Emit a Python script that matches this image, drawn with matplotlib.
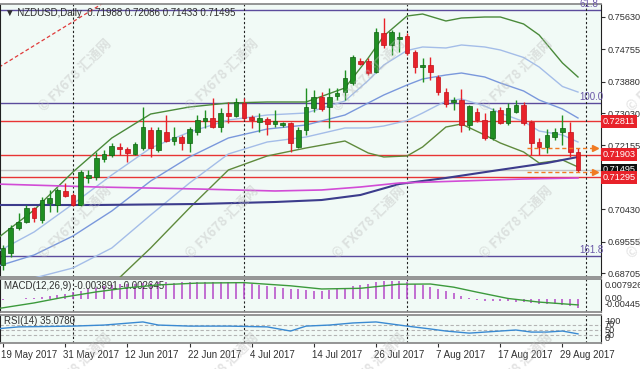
import matplotlib
matplotlib.use("Agg")
import matplotlib.pyplot as plt
import matplotlib.transforms as mtransforms
import numpy as np
import pandas as pd

plt.rcParams['font.family'] = ['Liberation Sans', 'DejaVu Sans']

# daily bars 18 May - 31 Aug 2017
dates = pd.bdate_range("2017-05-18", "2017-08-31")

opens = [0.68800, 0.68922, 0.69246, 0.69923, 0.70085, 0.70464, 0.70139, 0.70599, 0.70545, 0.70924,
         0.70816, 0.70545, 0.71276, 0.71303, 0.71790, 0.71898, 0.72114, 0.72060, 0.71925, 0.72087,
         0.72573, 0.72033, 0.72519, 0.72276, 0.72384, 0.72222, 0.72519, 0.72817, 0.72898, 0.72655,
         0.73033, 0.72952, 0.73304, 0.72925, 0.72790, 0.72871, 0.72736, 0.72709, 0.72763, 0.72114,
         0.72573, 0.73169, 0.73466, 0.73196, 0.73493, 0.73601, 0.73845, 0.74440, 0.74440, 0.74141,
         0.75197, 0.74873, 0.75035, 0.75116, 0.74683, 0.74277, 0.74332, 0.74007, 0.73601, 0.73331,
         0.73385, 0.72709, 0.73060, 0.72844, 0.72357, 0.73115, 0.72763, 0.73060, 0.73250, 0.72790,
         0.72249, 0.72114, 0.72384, 0.72519, 0.72519, 0.71988]
highs = [0.69050, 0.69463, 0.70004, 0.70329, 0.70545, 0.70491, 0.70762, 0.70951, 0.71005, 0.71140,
         0.70870, 0.71492, 0.71492, 0.71979, 0.72033, 0.72222, 0.72222, 0.72114, 0.72249, 0.73196,
         0.72655, 0.72655, 0.72979, 0.72655, 0.72438, 0.72655, 0.72979, 0.73115, 0.73439, 0.73169,
         0.73331, 0.73439, 0.73439, 0.72979, 0.73033, 0.72925, 0.73115, 0.72790, 0.72790, 0.72655,
         0.73710, 0.73656, 0.73601, 0.73710, 0.73710, 0.74196, 0.74602, 0.74521, 0.74521, 0.75333,
         0.75603, 0.75279, 0.75224, 0.75197, 0.74738, 0.74521, 0.74548, 0.74061, 0.73710, 0.73466,
         0.73683, 0.73250, 0.73169, 0.73033, 0.73169, 0.73196, 0.73304, 0.73385, 0.73331, 0.72844,
         0.72357, 0.72600, 0.72628, 0.72979, 0.72790, 0.72086]
lows = [0.68700, 0.68787, 0.69138, 0.69869, 0.70058, 0.70085, 0.70058, 0.70356, 0.70356, 0.70762,
        0.70518, 0.70518, 0.71140, 0.71221, 0.71708, 0.71844, 0.71898, 0.71708, 0.71898, 0.72033,
        0.71844, 0.71979, 0.72249, 0.72168, 0.72033, 0.71979, 0.72438, 0.72628, 0.72628, 0.72519,
        0.72763, 0.72925, 0.72844, 0.72628, 0.72519, 0.72438, 0.72655, 0.72655, 0.71979, 0.72087,
        0.72438, 0.73060, 0.73087, 0.72628, 0.73385, 0.73385, 0.73791, 0.74332, 0.74061, 0.74115,
        0.74792, 0.74602, 0.74683, 0.74602, 0.74115, 0.73872, 0.73926, 0.73520, 0.73196, 0.73115,
        0.72519, 0.72573, 0.72790, 0.72303, 0.72303, 0.72736, 0.72709, 0.73033, 0.72709, 0.71898,
        0.71898, 0.71952, 0.72303, 0.72168, 0.71844, 0.71433]
closes = [0.69000, 0.69382, 0.69923, 0.70085, 0.70464, 0.70193, 0.70680, 0.70734, 0.70951, 0.70789,
          0.70545, 0.71438, 0.71357, 0.71817, 0.71925, 0.72141, 0.72060, 0.71952, 0.72195, 0.72655,
          0.72087, 0.72573, 0.72276, 0.72384, 0.72222, 0.72600, 0.72844, 0.72898, 0.72655, 0.73033,
          0.72952, 0.73331, 0.72898, 0.72844, 0.72898, 0.72736, 0.72817, 0.72763, 0.72222, 0.72573,
          0.73196, 0.73466, 0.73142, 0.73466, 0.73574, 0.73980, 0.74548, 0.74359, 0.74115, 0.75224,
          0.74873, 0.75224, 0.75089, 0.74656, 0.74277, 0.74332, 0.74141, 0.73601, 0.73277, 0.73385,
          0.72709, 0.73223, 0.72844, 0.72357, 0.73087, 0.72763, 0.73169, 0.73250, 0.72763, 0.72222,
          0.72114, 0.72438, 0.72519, 0.72628, 0.71988, 0.71495]

# bollinger style bands at these bars
band_bars = [0, 5, 10, 15, 20, 25, 30, 35, 40, 45, 48, 50, 53, 55, 58, 60, 63, 65, 68, 70, 73, 75]
upper2 = [0.69598, 0.70410, 0.71438, 0.72357, 0.73006, 0.73196, 0.73304, 0.73331, 0.73331, 0.73710,
          0.74521, 0.75116, 0.75657, 0.75711, 0.75522, 0.75603, 0.75630, 0.75630, 0.75441, 0.75143,
          0.74386, 0.74007]
upper1 = [0.69247, 0.69815, 0.70572, 0.71357, 0.72087, 0.72519, 0.72844, 0.72979, 0.73033, 0.73358,
          0.73912, 0.74332, 0.74724, 0.74819, 0.74792, 0.74873, 0.74819, 0.74738, 0.74535, 0.74277,
          0.73750, 0.73600]
middle = [0.68868, 0.69193, 0.69706, 0.70383, 0.71194, 0.71844, 0.72357, 0.72600, 0.72709, 0.72979,
          0.73304, 0.73520, 0.73791, 0.73953, 0.74061, 0.74115, 0.74007, 0.73845, 0.73629, 0.73385,
          0.73142, 0.72898]
lower1 = [0.68489, 0.68570, 0.68841, 0.69382, 0.70274, 0.71140, 0.71925, 0.72249, 0.72384, 0.72628,
          0.72628, 0.72682, 0.72830, 0.73033, 0.73358, 0.73412, 0.73223, 0.73033, 0.72803, 0.72546,
          0.72438, 0.72249]
lower2 = [0.68110, 0.67975, 0.67975, 0.68381, 0.69382, 0.70464, 0.71492, 0.71871, 0.72087, 0.72276,
          0.71952, 0.71844, 0.71871, 0.72114, 0.72654, 0.72736, 0.72438, 0.72222, 0.71979, 0.71681,
          0.71763, 0.71573]

ma_slow_bars = [0, 13, 26, 36, 42, 47, 52, 58, 64, 71, 75]
ma_slow = [0.70545, 0.70545, 0.70572, 0.70626, 0.70680, 0.70816, 0.71113, 0.71276, 0.71465, 0.71681, 0.71844]
ma_long_bars = [0, 13, 26, 36, 42, 47, 52, 60, 68, 75]
ma_long = [0.71113, 0.71032, 0.70978, 0.70924, 0.70951, 0.71032, 0.71140, 0.71194, 0.71248, 0.71276]

fib_levels = [0.75819, 0.73304, 0.69165]
fib_labels = ["61.8", "100.0", "161.8"]
red_levels = [0.72811, 0.71903, 0.71295]
last_price = 0.71495
arrow_levels = [0.72100, 0.71450]
arrow_bars = [68.4, 77.2]
trend_bars = [0, 14]
trend_prices = [0.74210, 0.76020]
month_starts = [10, 32, 53, 76]
price_ticks = [0.75630, 0.74755, 0.73880, 0.73030, 0.72155, 0.70430, 0.69555, 0.68705]

macd = [-0.0004, -0.0003, -0.0002, 0.0001, 0.0003, 0.0005, 0.0008, 0.0012, 0.0017, 0.0022,
        0.0029, 0.0037, 0.0044, 0.0050, 0.0055, 0.0060, 0.0064, 0.0066, 0.0068, 0.0071,
        0.0072, 0.0074, 0.0073, 0.0072, 0.0073, 0.0074, 0.0075, 0.0074, 0.0073, 0.0074,
        0.0074, 0.0073, 0.0071, 0.0066, 0.0062, 0.0058, 0.0053, 0.0049, 0.0046, 0.0042,
        0.0040, 0.0037, 0.0036, 0.0039, 0.0042, 0.0048, 0.0057, 0.0063, 0.0068, 0.0075,
        0.0078, 0.007926, 0.0078, 0.0074, 0.0068, 0.0061, 0.0054, 0.0046, 0.0037, 0.0027,
        0.0014, 0.0005, -0.0003, -0.0008, -0.0008, -0.0010, -0.0011, -0.0012, -0.0015, -0.0019,
        -0.0022, -0.0023, -0.0024, -0.0026, -0.0030, -0.003891]
signal_bars = [0, 5, 9, 13, 17, 21, 26, 32, 38, 42, 47, 52, 56, 59, 62, 66, 70, 75]
signal = [-0.004454, -0.00177, 0.00088, 0.0031, 0.0049, 0.0062, 0.0070, 0.0072, 0.0058, 0.0044,
          0.0047, 0.0065, 0.0066, 0.0052, 0.0030, 0.0002, -0.0014, -0.002645]

rsi_bars = [0, 3, 10, 14, 19, 21, 25, 30, 35, 38, 40, 43, 46, 49, 51, 53, 56, 58, 61, 63, 65, 67, 69, 71, 73, 75]
rsi = [54, 62, 65, 69, 81, 69, 65, 65, 62, 46, 65, 69, 77, 81, 73, 65, 54, 46, 38, 42, 46, 50, 42, 42, 46, 35.078]

W, H = 640, 369
BG = "#f1faf6"
fig = plt.figure(figsize=(6.4, 3.69), dpi=100, facecolor="white")


def box(x0, y0, x1, y1):
    return [x0 / W, 1 - y1 / H, (x1 - x0) / W, (y1 - y0) / H]


ax = fig.add_axes(box(0, 4, 601, 277))
ax_m = fig.add_axes(box(0, 279, 601, 312), sharex=ax)
ax_r = fig.add_axes(box(0, 315, 601, 343), sharex=ax)

idx = np.arange(len(dates))
for a in (ax, ax_m, ax_r):
    a.set_facecolor(BG)
    for s in ("top", "bottom"):
        a.spines[s].set_color("#8c8c8c")
        a.spines[s].set_linewidth(1.3)
    a.spines["left"].set_color("#202020")
    a.spines["right"].set_color("#202020")
    a.spines["right"].set_linewidth(0.8)
    for m in month_starts:
        a.axvline(m, color="#202020", lw=0.8, ls=(0, (2, 2)), zorder=2)

ax.set_xlim(0.61, 77.96)
ax.set_ylim(0.685973, 0.759816)

# horizontal levels
for lv in fib_levels:
    ax.axhline(lv, color="#5b4b9c", lw=1, zorder=1)
for lv, lb in zip(fib_levels, fib_labels):
    ax.text(75.2, lv + 0.0003, lb, color="#6a58a8", fontsize=7, ha="left", va="bottom", zorder=6)
for lv in red_levels:
    ax.axhline(lv, color="#e83434", lw=1, zorder=1)
ax.axhline(last_price, color="#c4c4c4", lw=1, zorder=1)

ax.plot(trend_bars, trend_prices, color="#e03a3a", lw=0.9, ls=(0, (3, 2)), zorder=2)

# bands and averages
ax.plot(band_bars, upper2, color="#4a8a3a", lw=1, zorder=3)
ax.plot(band_bars, lower2, color="#5f8a3c", lw=1, zorder=3)
ax.plot(band_bars, upper1, color="#a4bde8", lw=1, zorder=3)
ax.plot(band_bars, lower1, color="#a4bde8", lw=1, zorder=3)
ax.plot(band_bars, middle, color="#7a98dc", lw=1, zorder=3)
ax.plot(ma_slow_bars, ma_slow, color="#3c3c8c", lw=1.5, zorder=3)
ax.plot(ma_long_bars, ma_long, color="#d24cd6", lw=1.2, zorder=3)

# candles
o = np.array(opens); c = np.array(closes)
up = c >= o
body_col = np.where(up, "#1f8f22", "#e8222a")
edge_col = np.where(up, "#0f5f12", "#c01018")
ax.vlines(idx, lows, highs, colors=body_col, lw=1, zorder=4)
ax.bar(idx, np.maximum(np.abs(c - o), 0.0003), bottom=np.minimum(o, c), width=0.6,
       color=body_col, edgecolor=edge_col, linewidth=0.5, zorder=5)

for lv in arrow_levels:
    ax.plot(arrow_bars, [lv, lv], color="#f07a22", lw=1, ls=(0, (3, 2)), zorder=6)
    ax.plot(arrow_bars[1], lv, marker=">", ms=4, color="#f07a22", zorder=6, clip_on=False)

ax.yaxis.tick_right()
ax.set_yticks(price_ticks)
ax.set_yticklabels([f"{v:.5f}" for v in price_ticks])
ax.tick_params(axis="y", labelsize=6.6, length=3, pad=1.5, colors="#303030", width=0.8)
ax.tick_params(axis="x", bottom=False, labelbottom=False)

lab_tr = ax.get_yaxis_transform() + mtransforms.ScaledTranslation(0.015, 0, fig.dpi_scale_trans)
for lv, col in [(0.72811, "#e8222a"), (0.71903, "#e8222a"), (last_price, "#101010"), (0.71295, "#e8222a")]:
    ax.text(1, lv, f"{lv:.5f}", transform=lab_tr, color="white", fontsize=6.6, ha="left", va="center",
            bbox=dict(boxstyle="square,pad=0.2", fc=col, ec="none"), clip_on=False, zorder=10)

fig.text(5 / W, 1 - 12.7 / H, "\u25bc NZDUSD,Daily  0.71988 0.72086 0.71433 0.71495",
         fontsize=7, color="#303030", va="center", ha="left")

# MACD
ax_m.set_ylim(-0.00578, 0.00881)
ax_m.vlines(idx, 0, macd, colors="#b448c8", lw=1.1, zorder=3)
ax_m.plot(signal_bars, signal, color="#3c9a3c", lw=1, zorder=4)
ax_m.set_yticks([])
ax_m.tick_params(axis="x", bottom=False, labelbottom=False)
ax_m.text(0.006, 0.78, "MACD(12,26,9) -0.003891 -0.002645", transform=ax_m.transAxes,
          fontsize=7, color="#303030", va="center")
mt = ax_m.get_yaxis_transform() + mtransforms.ScaledTranslation(0.04, 0, fig.dpi_scale_trans)
ax_m.text(1, 0.007926, "0.007926", transform=mt, fontsize=6.6, color="#303030", va="top", clip_on=False)
ax_m.text(1, 0.0, "0.00", transform=mt, fontsize=6.6, color="#303030", va="center", clip_on=False)
ax_m.text(1, -0.004454, "-0.004454", transform=mt, fontsize=6.6, color="#303030", va="bottom", clip_on=False)

# RSI
ax_r.set_ylim(0, 107.7)
for lv in (70, 50, 30):
    ax_r.axhline(lv, color="#b4b4b4", lw=0.8, ls=(0, (3, 2)), zorder=1)
ax_r.plot(rsi_bars, rsi, color="#3a8ad2", lw=1, zorder=3)
ax_r.set_yticks([])
ax_r.text(0.006, 0.78, "RSI(14) 35.0780", transform=ax_r.transAxes, fontsize=7, color="#303030", va="center")
rt = ax_r.get_yaxis_transform() + mtransforms.ScaledTranslation(0.04, 0, fig.dpi_scale_trans)
for lv, va in [(100, "top"), (70, "center"), (50, "center"), (30, "center"), (0, "bottom")]:
    ax_r.text(1, lv, str(lv), transform=rt, fontsize=6.6, color="#303030", va=va, clip_on=False)

tick_bars = list(range(1, 76, 8))
ax_r.set_xticks(tick_bars)
ax_r.set_xticklabels([f"{dates[i].day} {dates[i].strftime('%b %Y')}" for i in tick_bars])
ax_r.tick_params(axis="x", labelsize=7, length=3, pad=2, colors="#303030", width=0.8)
shift = mtransforms.ScaledTranslation(-0.02, 0, fig.dpi_scale_trans)
for lbl in ax_r.get_xticklabels():
    lbl.set_ha("left")
    lbl.set_transform(lbl.get_transform() + shift)

# watermark
for wy in (75, 222, 369):
    for wx in (75, 222, 369, 516, 663):
        fig.text(wx / W, 1 - wy / H, "\u00a9 FX678 \u6c47\u901a\u7f51", rotation=45, ha="center", va="center",
                 fontsize=9.5, fontweight="bold", color="#bcbcbc", alpha=0.4,
                 family=["Noto Sans CJK SC", "DejaVu Sans"], zorder=20)

fig.savefig("out.png", dpi=100, facecolor="white")
